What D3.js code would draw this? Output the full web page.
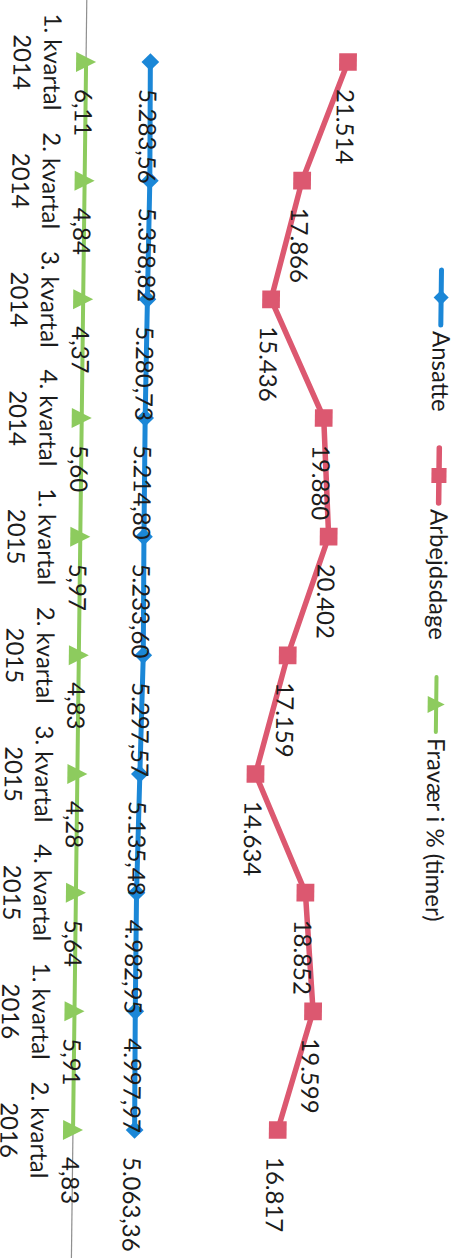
<!DOCTYPE html>
<html>
<head>
<meta charset="utf-8">
<script src="https://cdn.jsdelivr.net/npm/d3@7"></script>
<style>
html,body{margin:0;padding:0;background:#fff;}
svg{display:block;}
text{font-family:Lato,"Open Sans",sans-serif;fill:#1c1c1c;}
</style>
</head>
<body>
<svg id="chart" width="463" height="1258"></svg>
<script>
const categories = ["1. kvartal|2014","2. kvartal|2014","3. kvartal|2014","4. kvartal|2014",
  "1. kvartal|2015","2. kvartal|2015","3. kvartal|2015","4. kvartal|2015",
  "1. kvartal|2016","2. kvartal|2016"];
const ansatte = [5283.56,5358.82,5280.73,5214.80,5233.60,5297.57,5135.48,4982.95,4997.97,5063.36];
const arbejdsdage = [21514,17866,15436,19880,20402,17159,14634,18852,19599,16817];
const fravaer = [6.11,4.84,4.37,5.60,5.97,4.83,4.28,5.64,5.91,4.83];
const seriesNames = ["Ansatte","Arbejdsdage","Fravær i % (timer)"];
const yTicks = [0,25000];

const W = 1258, H = 463;
const cx = 596, base = 383.5;
const svg = d3.select("#chart");
const g = svg.append("g")
  .attr("transform", `translate(${H},0) rotate(90) translate(${cx},${base}) skewY(0.7) translate(${-cx},${-base})`);

const x = d3.scalePoint().domain(categories).range([62,1130]);
const y = d3.scaleLinear().domain(d3.extent(yTicks)).range([base, base - 304.4]);

const fmtDa = (v, d) => {
  const s = v.toFixed(d);
  let [i, f] = s.split(".");
  i = i.replace(/\B(?=(\d{3})+(?!\d))/g, ".");
  return f ? i + "," + f : i;
};

const series = [
  {name: seriesNames[0], values: ansatte, color:"#1B87D7", lw:5, marker:"diamond", dec:2},
  {name: seriesNames[1], values: arbejdsdage, color:"#DC5870", lw:5.5, marker:"square", dec:0},
  {name: seriesNames[2], values: fravaer, color:"#8DCB5E", lw:4, marker:"triangle", dec:2}
];

// category axis line
const xAxis = d3.axisBottom(x).tickSize(0).tickFormat("");
const ax = g.append("g").attr("transform", `translate(0,${y(0)})`).call(xAxis);
ax.select(".domain").attr("d", `M-30,0H${W+30}`).attr("stroke","#8f8f8f").attr("stroke-width",1.2);

function markerPath(type, s) {
  if (type === "diamond") return d3.symbol(d3.symbolDiamond2, s*s/2)();
  if (type === "square") return d3.symbol(d3.symbolSquare2, s*s)();
  return `M0,${-s/2}L${s/2},${s/2}L${-s/2},${s/2}Z`;
}

const line = d3.line().x((d,i)=>x(categories[i])).y(d=>y(d));
series.forEach(s => {
  g.append("path").datum(s.values).attr("d", line)
    .attr("fill","none").attr("stroke", s.color).attr("stroke-width", s.lw)
    .attr("stroke-linejoin","round");
  g.selectAll(null).data(s.values).enter().append("path")
    .attr("d", markerPath(s.marker, 20))
    .attr("transform",(d,i)=>`translate(${x(categories[i])},${y(d)})`)
    .attr("fill", s.color);
});

// data labels
series.forEach(s => {
  g.selectAll(null).data(s.values).enter().append("text")
    .attr("x",(d,i)=>x(categories[i]) + 27)
    .attr("y", d=>y(d))
    .attr("dy","0.45em")
    .attr("font-size",24)
    .text(d=>fmtDa(d, s.dec));
});

// category labels
categories.forEach(c => {
  const [l1,l2] = c.split("|");
  const t = g.append("text").attr("text-anchor","middle").attr("font-size",24);
  t.append("tspan").attr("x", x(c)).attr("y", 425.5).text(l1);
  t.append("tspan").attr("x", x(c)).attr("y", 456).text(l2);
});

// legend
const legendX = [270, 448, 677];
series.forEach((s,i) => {
  const lg = g.append("g").attr("transform",`translate(${legendX[i]},25.5)`);
  lg.append("line").attr("x1",0).attr("x2",55).attr("stroke",s.color).attr("stroke-width",s.lw).attr("stroke-linecap","round");
  lg.append("path").attr("d", markerPath(s.marker,17)).attr("transform","translate(27.5,0)").attr("fill",s.color);
  lg.append("text").attr("x",61).attr("y",8).attr("font-size",24).text(s.name);
});
</script>
</body>
</html>
